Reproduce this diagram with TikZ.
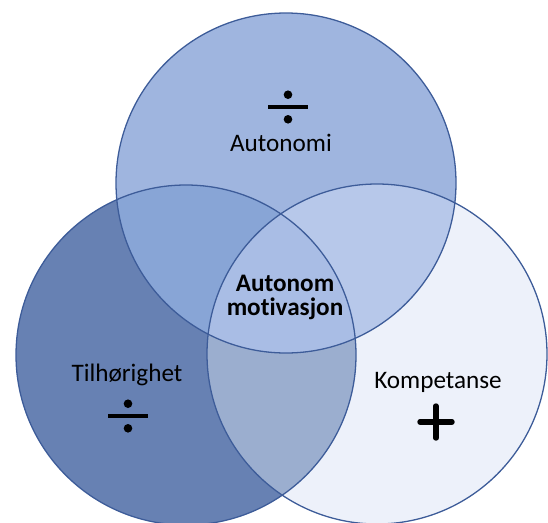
\documentclass[tikz,border=0pt]{standalone}
\usepackage{fontspec}
\setmainfont{Carlito}[Ligatures=NoCommon]

\definecolor{ringLine}{HTML}{3D5C99}
\definecolor{autoFill}{HTML}{9FB5DF}
\definecolor{tilFill}{HTML}{6781B3}
\definecolor{kompFill}{HTML}{EDF1FA}
\definecolor{autoTilFill}{HTML}{88A5D6}
\definecolor{autoKompFill}{HTML}{B7C8EA}
\definecolor{tilKompFill}{HTML}{9BAECF}
\definecolor{allFill}{HTML}{A9BDE5}

\newcommand*{\rad}{170}
% division sign and plus sign, centred at (#1,#2)
\newcommand*{\divsign}[2]{%
	\draw [sign] (#1-20,#2) -- (#1+20,#2);
	\fill (#1,#2-12.3) circle (4.3);
	\fill (#1,#2+12.3) circle (4.3);
}
\newcommand*{\plussign}[2]{%
	\draw [sign,line width=4.6pt,line cap=round] (#1-16,#2) -- (#1+16,#2);
	\draw [sign,line width=4.6pt,line cap=round] (#1,#2-16) -- (#1,#2+16);
}

\begin{document}
\begin{tikzpicture}[x=0.03cm,y=-0.03cm,
	ring/.style={draw=ringLine, line width=1.1pt},
	sign/.style={line width=3.7pt},
	lbl/.style={inner sep=0pt, font=\fontsize{21.5}{20.5}\selectfont}]
	\useasboundingbox (0,0) rectangle (548,523);
	\clip (0,0) rectangle (548,523);

	\coordinate (autonomi) at (286,183);
	\coordinate (tilhorighet) at (186,355);
	\coordinate (kompetanse) at (377,354);

	% plain circles
	\fill [autoFill] (autonomi) circle (\rad);
	\fill [tilFill] (tilhorighet) circle (\rad);
	\fill [kompFill] (kompetanse) circle (\rad);

	% overlaps
	\begin{scope}
		\clip (tilhorighet) circle (\rad);
		\fill [tilKompFill] (kompetanse) circle (\rad);
	\end{scope}
	\begin{scope}
		\clip (autonomi) circle (\rad);
		\fill [autoTilFill] (tilhorighet) circle (\rad);
		\fill [autoKompFill] (kompetanse) circle (\rad);
		\clip (tilhorighet) circle (\rad);
		\fill [allFill] (kompetanse) circle (\rad);
	\end{scope}

	\foreach \c in {autonomi,tilhorighet,kompetanse} {
		\draw [ring] (\c) circle (\rad);
	}

	% labels
	\node [lbl, anchor=base] (autoText) at (281,151) {Autonomi};
	\node [lbl, anchor=base] (tilText) at (127,381) {Tilhørighet};
	\node [lbl, anchor=base] (kompText) at (438,388) {Kompetanse};
	\node [lbl, align=center, font=\fontsize{21.5}{20.5}\selectfont\bfseries] (motText) at (285,297) {Autonom\\motivasjon};

	\divsign{288}{107}
	\divsign{128}{416}
	\plussign{436}{422}
	%\draw [red] (0,0) rectangle (548,523);
\end{tikzpicture}
\end{document}
